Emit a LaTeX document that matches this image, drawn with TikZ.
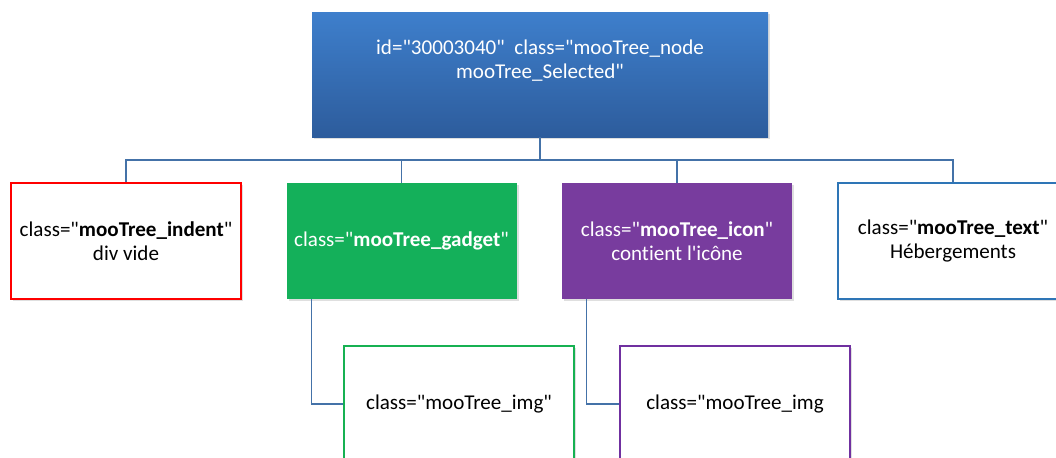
\documentclass[tikz,border=0pt]{standalone}
\usepackage{fontspec}
\setmainfont{Carlito}[Ligatures={TeXOff,NoCommon}]
\usetikzlibrary{calc,shadows}
\definecolor{topblue}{HTML}{3E7FCC}
\definecolor{topbluedark}{HTML}{2D5C9C}
\definecolor{linkblue}{HTML}{4472A8}
\definecolor{gadgetgreen}{HTML}{14B05A}
\definecolor{imggreen}{HTML}{16B152}
\definecolor{iconpurple}{HTML}{783C9E}
\definecolor{imgpurple}{HTML}{7030A0}
\definecolor{textblue}{HTML}{2E75B6}
\begin{document}
\begin{tikzpicture}[x=0.75pt,y=-0.75pt,
    every node/.style={font=\fontsize{15.8}{18}\selectfont, align=center},
    box/.style={rectangle, minimum width=172.5pt, minimum height=87pt, inner sep=2pt,
        drop shadow={opacity=0.25, shadow xshift=1.5pt, shadow yshift=-1.5pt}},
    outlinebox/.style={box, fill=white, line width=1.3pt},
    link/.style={draw=linkblue, line width=1.1pt}]
    \clip (0,0) rectangle (1056,457);
    \useasboundingbox (0,0) rectangle (1056,457);
    \node[box, minimum width=342pt, minimum height=93.75pt, top color=topblue, bottom color=topbluedark] (root) at (540,74.5) {};
    \node[white] (roottext) at (540,61) {id="30003040"\ \ class="mooTree\_node\\mooTree\_Selected"};
    \node[outlinebox, draw=red] (indent) at (126,241) {class="\textbf{mooTree\_indent}"\\div vide};
    \node[box, fill=gadgetgreen, text=white] (gadget) at (401.5,241) {class="\textbf{mooTree\_gadget}"};
    \node[box, fill=iconpurple, text=white] (icon) at (677,241) {class="\textbf{mooTree\_icon}"\\contient l'icône};
    \node[outlinebox, draw=textblue] (text) at (953,241) {class="\textbf{mooTree\_text}"\\Hébergements};
    \node[outlinebox, draw=imggreen] (imgA) at (459,404) {class="mooTree\_img"};
    \node[outlinebox, draw=imgpurple] (imgB) at (735,404) {class="mooTree\_img};
    \coordinate (bus) at (540,160);
    \draw[link] (root.south) -- (bus);
    \foreach \child in {indent,gadget,icon,text}
        \draw[link] (bus) -| (\child.north);
    \draw[link] ($(gadget.south west)+(25,0)$) |- (imgA.west);
    \draw[link] ($(icon.south west)+(25,0)$) |- (imgB.west);
\end{tikzpicture}
\end{document}
